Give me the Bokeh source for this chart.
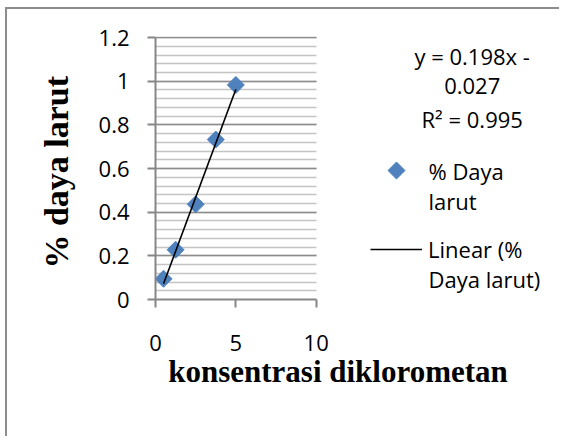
import math
from bokeh.plotting import figure
from bokeh.models import (Range1d, FixedTicker, NumeralTickFormatter, Label,
                          Legend, LegendItem)
from bokeh.embed import file_html
from bokeh.resources import INLINE

# ---- data ----
konsentrasi = [0.5, 1.25, 2.5, 3.75, 5.0]
daya_larut = [0.095, 0.228, 0.436, 0.733, 0.983]
slope = 0.198
intercept = -0.027
eq_lines = ["y = 0.198x -", "0.027", "R\u00b2 = 0.995"]
y_ticks = [0, 0.2, 0.4, 0.6, 0.8, 1.0, 1.2]
y_minor = [round(i * 0.04, 2) for i in range(31)]
x_ticks = [0, 5, 10]
series_name = ["% Daya", "larut"]
trend_name = ["Linear (%", "Daya larut)"]
x_title = "konsentrasi diklorometan"
y_title = "% daya  larut"

TICK_FONT = "Open Sans"
TITLE_FONT = "Liberation Serif"
BLUE = "#4F81BD"

# ---- layout constants (pixels) ----
W, H = 554, 429
FRAME_LEFT, FRAME_TOP, FRAME_H = 148, 27, 263
AXIS_W = 160.7            # pixel width of x = 0..10
X_MAX = 10
x_end = X_MAX * (W - FRAME_LEFT) / AXIS_W
y_end = 1.205
PX_X = AXIS_W / X_MAX
PX_Y = FRAME_H / y_end

# legend geometry (screen px relative to the frame's bottom-left)
LEG_X, KEY_W, LEG_STANDOFF = 215, 52, 6
TEXT_X = LEG_X + KEY_W + LEG_STANDOFF
ITEM1_Y, ITEM2_Y, LINE_GAP = 129, 50, 31

p = figure(width=W, height=H, output_backend="svg", toolbar_location=None,
           x_range=Range1d(0, x_end), y_range=Range1d(0, y_end),
           min_border_left=FRAME_LEFT, min_border_right=0,
           min_border_top=FRAME_TOP, min_border_bottom=H - FRAME_TOP - FRAME_H)
p.outline_line_color = None
p.background_fill_color = "white"
p.border_fill_color = "white"
p.styles = {"margin-left": "5px", "margin-top": "7px",
            "border-left": "2px solid #8c8c8c", "border-top": "2px solid #8c8c8c"}

# axes
p.xaxis.ticker = FixedTicker(ticks=x_ticks)
p.xaxis.bounds = (0, X_MAX)
yt = FixedTicker(ticks=y_ticks, minor_ticks=y_minor)
p.yaxis.ticker = yt
p.yaxis.bounds = (0, 1.2)
p.yaxis.formatter = NumeralTickFormatter(format="0.[0]")
for ax in (p.xaxis[0], p.yaxis[0]):
    ax.axis_line_color = "#868686"
    ax.axis_line_width = 2
    ax.major_tick_line_color = "#868686"
    ax.major_tick_line_width = 2
    ax.major_tick_out = 8
    ax.major_tick_in = 0
    ax.minor_tick_out = 0
    ax.minor_tick_in = 0
    ax.major_label_text_font = TICK_FONT
    ax.major_label_text_font_size = "22px"
    ax.major_label_text_color = "black"
p.yaxis.major_label_standoff = 18
p.xaxis.major_label_standoff = 27
p.yaxis.axis_label = y_title
p.yaxis.axis_label_text_font = TITLE_FONT
p.yaxis.axis_label_text_font_style = "bold"
p.yaxis.axis_label_text_font_size = "34px"
p.yaxis.axis_label_text_color = "black"
p.yaxis.axis_label_standoff = 21

# grids
p.xgrid.visible = False
g = p.ygrid[0]
if "cross_bounds" in g.properties():
    g.ticker = yt
    g.cross_bounds = (0, X_MAX)
    g.grid_line_color = "#8c8c8c"
    g.grid_line_width = 1.5
    g.minor_grid_line_color = "#c4c4c4"
    g.minor_grid_line_width = 1.5
else:
    g.visible = False
    minor_only = [v for v in y_minor if all(abs(v - t) > 1e-9 for t in y_ticks)]
    p.segment(x0=0, x1=X_MAX, y0=minor_only, y1=minor_only,
              line_color="#c4c4c4", line_width=1.5, level="underlay")
    p.segment(x0=0, x1=X_MAX, y0=y_ticks[1:], y1=y_ticks[1:],
              line_color="#8c8c8c", line_width=1.5, level="underlay")

# data
p.scatter(konsentrasi, daya_larut, marker="square", angle=math.pi / 4,
          size=12, fill_color=BLUE, line_color=BLUE)
tx = [min(konsentrasi), max(konsentrasi)]
ty = [slope * v + intercept for v in tx]
r_line = p.line(tx, ty, line_color="black", line_width=1.6)

# legend: diamond key (Bokeh legends draw markers unrotated, so draw it here)
p.scatter([(LEG_X + KEY_W / 2) / PX_X], [ITEM1_Y / PX_Y], marker="square",
          angle=math.pi / 4, size=12, fill_color=BLUE, line_color=BLUE)
legend = Legend(items=[LegendItem(label=trend_name[0], renderers=[r_line])],
                location=(LEG_X, ITEM2_Y - 15), glyph_width=KEY_W, glyph_height=30,
                label_height=30, label_standoff=LEG_STANDOFF, padding=0,
                margin=0, border_line_color=None, background_fill_alpha=0,
                label_text_font=TICK_FONT, label_text_font_size="22px",
                label_text_color="black")
p.add_layout(legend)

def lab(text, x, y, place=None, **kw):
    opts = dict(text_font=TICK_FONT, text_font_size="22px", text_color="black",
                text_baseline="middle", text_align="left")
    opts.update(kw)
    l = Label(x=x, y=y, x_units="screen", y_units="screen", text=text, **opts)
    if place:
        p.add_layout(l, place)
    else:
        p.add_layout(l)

lab(series_name[0], TEXT_X, ITEM1_Y)
lab(series_name[1], TEXT_X, ITEM1_Y - LINE_GAP + 1)
lab(trend_name[1], TEXT_X, ITEM2_Y - LINE_GAP + 2)
for t, yy in zip(eq_lines, [244, 213.5, 181]):
    lab(t, 316.7, yy, text_align="center")

lab(x_title, 182.5, 0, place="below", text_font=TITLE_FONT, text_font_style="bold",
    text_font_size="31px", text_align="center", text_baseline="bottom")

open("out.html", "w").write(file_html(p, INLINE))
